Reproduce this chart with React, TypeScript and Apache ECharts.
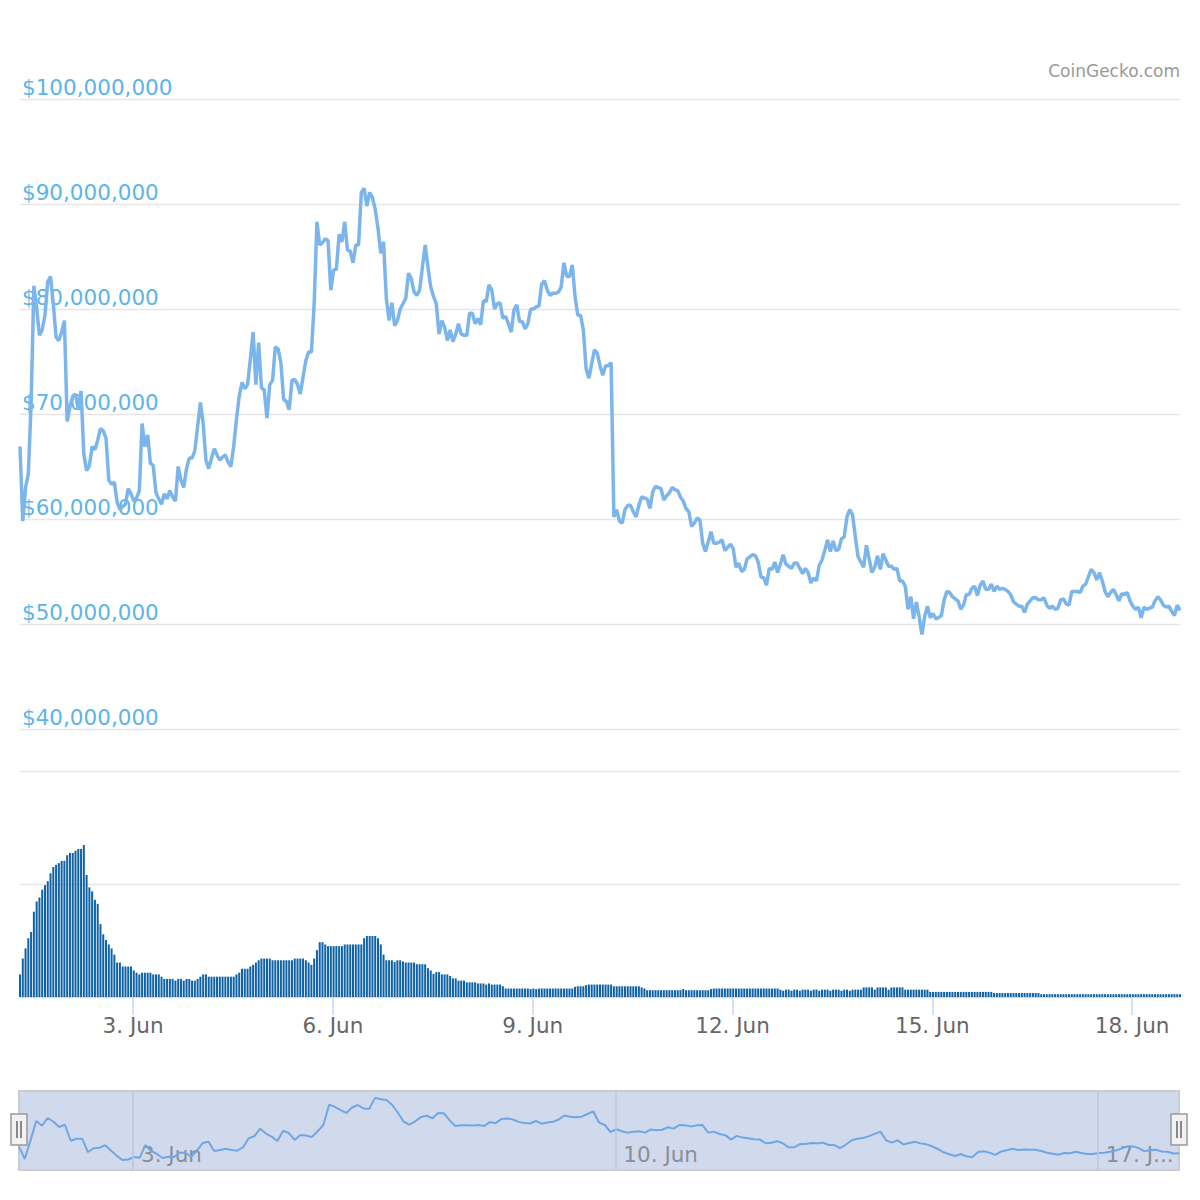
import React, { useEffect, useRef } from "react";
import * as echarts from "echarts";

// ---- data (hourly, market cap in millions USD) ----
const startTime = Date.UTC(2020, 5, 1, 7, 15);
const HOUR = 3600 * 1000;

const marketCap = [
  66.9, 59.8, 63.0, 64.3, 71.0, 82.2, 80.1, 77.5, 78.0, 79.4,
  82.6, 83.1, 80.5, 77.3, 77.0, 77.8, 78.9, 69.3, 70.7, 71.7,
  71.9, 70.4, 72.2, 66.2, 64.6, 65.1, 66.9, 66.6, 67.5, 68.6,
  68.4, 67.7, 63.7, 63.3, 63.5, 61.6, 60.9, 61.2, 61.4, 62.9,
  62.4, 61.7, 62.0, 62.7, 69.1, 66.9, 68.0, 65.3, 65.1, 62.5,
  61.9, 61.4, 62.4, 61.9, 62.7, 62.1, 61.7, 65.0, 63.7, 63.0,
  64.8, 65.8, 65.8, 66.5, 68.8, 71.1, 69.1, 65.6, 64.8, 65.8,
  66.7, 66.1, 65.6, 65.9, 66.1, 65.4, 65.0, 66.9, 69.5, 71.7,
  73.0, 72.4, 72.8, 75.2, 77.8, 72.8, 76.8, 72.5, 72.3, 69.6,
  72.8, 73.2, 76.4, 76.2, 74.9, 71.4, 71.2, 70.4, 73.2, 73.3,
  72.8, 71.9, 73.5, 75.1, 75.9, 75.9, 80.5, 88.3, 86.1, 86.3,
  86.7, 86.5, 81.8, 83.7, 83.8, 87.1, 86.4, 88.3, 85.6, 85.5,
  84.4, 86.1, 86.1, 91.1, 91.5, 89.8, 91.1, 90.6, 89.5, 87.7,
  85.3, 86.4, 81.0, 78.9, 80.6, 78.4, 78.9, 80.0, 80.5, 81.0,
  83.4, 82.9, 81.6, 81.3, 81.8, 84.0, 86.1, 84.0, 82.1, 81.2,
  80.5, 77.6, 78.9, 78.3, 77.0, 78.0, 76.9, 77.6, 78.6, 77.6,
  77.5, 77.5, 79.6, 79.6, 78.6, 79.1, 78.5, 80.8, 80.7, 82.3,
  81.8, 80.0, 80.5, 80.6, 79.1, 79.3, 78.6, 77.8, 79.9, 80.4,
  78.8, 78.8, 78.1, 78.6, 80.0, 80.0, 80.2, 80.3, 82.4, 82.7,
  81.8, 81.3, 81.5, 81.5, 81.6, 82.1, 84.4, 83.1, 83.1, 84.2,
  81.2, 79.4, 79.4, 78.0, 74.3, 73.4, 74.8, 76.1, 75.8, 74.6,
  73.7, 74.6, 74.6, 74.9, 60.2, 60.9, 59.8, 59.6, 60.9, 61.3,
  61.3, 60.7, 60.2, 61.3, 62.1, 62.0, 61.9, 61.0, 62.6, 63.1,
  63.0, 62.9, 61.8, 62.2, 62.5, 63.0, 62.8, 62.7, 62.1, 61.7,
  61.0, 60.7, 59.3, 59.6, 60.1, 59.9, 57.7, 56.9, 57.8, 58.8,
  57.7, 57.7, 57.8, 58.0, 57.0, 57.3, 57.6, 57.2, 55.4, 55.8,
  55.0, 55.2, 56.2, 56.4, 56.6, 56.5, 55.9, 54.5, 54.4, 53.7,
  55.3, 55.2, 55.9, 54.9, 55.7, 56.6, 55.7, 55.5, 55.3, 55.8,
  55.8, 55.3, 54.8, 55.3, 54.9, 53.9, 54.4, 54.1, 55.6, 56.1,
  57.0, 58.0, 56.9, 57.9, 57.0, 57.1, 58.1, 58.3, 60.2, 60.9,
  60.4, 58.3, 56.4, 55.9, 55.4, 57.5, 56.2, 54.9, 55.4, 56.5,
  55.2, 56.7, 56.1, 55.5, 55.5, 55.2, 55.3, 54.1, 54.1, 53.6,
  51.4, 52.6, 50.5, 52.1, 50.7, 49.0, 50.7, 51.7, 50.6, 51.0,
  50.5, 50.6, 50.8, 52.3, 53.1, 53.0, 52.6, 52.4, 52.2, 51.4,
  51.8, 52.8, 52.8, 53.4, 53.6, 52.7, 53.7, 54.1, 53.3, 53.3,
  53.8, 53.1, 53.6, 53.3, 53.4, 53.3, 53.1, 52.8, 52.1, 51.9,
  51.7, 51.7, 51.1, 51.9, 52.2, 52.5, 52.5, 52.3, 52.3, 52.5,
  51.8, 51.5, 51.7, 51.4, 51.5, 52.3, 52.4, 51.9, 51.8, 53.1,
  53.1, 53.1, 53.0, 53.6, 53.8, 54.5, 55.2, 54.9, 54.2, 54.9,
  54.1, 53.1, 52.6, 53.0, 53.3, 52.8, 52.2, 52.9, 52.8, 53.0,
  52.2, 51.7, 51.4, 51.6, 50.6, 51.6, 51.4, 51.5, 51.6, 52.2,
  52.6, 52.3, 51.8, 51.6, 51.7, 51.2, 50.8, 51.8, 51.3,
];

// hourly volume (millions USD)
const volume = [
  4.0, 6.8, 8.6, 10.4, 11.5, 15.1, 16.9, 17.6, 19.0, 19.8,
  20.5, 21.9, 23.0, 23.4, 23.7, 24.1, 24.1, 25.1, 25.5, 25.5,
  25.9, 26.2, 26.2, 26.9, 21.6, 19.4, 18.7, 17.2, 16.5, 12.9,
  11.1, 10.1, 9.3, 8.6, 7.5, 6.1, 6.1, 5.4, 5.4, 5.4,
  5.4, 4.7, 4.3, 4.0, 4.3, 4.3, 4.3, 4.3, 4.0, 4.0,
  4.0, 3.6, 3.2, 3.2, 3.2, 3.2, 2.9, 3.2, 3.2, 2.9,
  3.2, 3.2, 2.9, 2.9, 3.2, 3.6, 4.0, 4.0, 3.6, 3.6,
  3.6, 3.6, 3.6, 3.6, 3.6, 3.6, 3.6, 3.6, 4.0, 4.3,
  5.0, 5.0, 5.0, 5.4, 5.7, 6.1, 6.5, 6.8, 6.8, 6.8,
  6.8, 6.5, 6.5, 6.5, 6.5, 6.5, 6.5, 6.5, 6.5, 6.8,
  6.8, 6.8, 6.8, 6.5, 6.1, 5.7, 6.8, 8.3, 9.7, 9.7,
  9.3, 9.0, 9.0, 9.0, 9.0, 9.0, 9.0, 9.3, 9.3, 9.3,
  9.3, 9.3, 9.3, 9.3, 10.4, 10.8, 10.8, 10.8, 10.8, 10.4,
  9.3, 7.5, 6.5, 6.5, 6.5, 6.2, 6.5, 6.5, 6.3, 6.1,
  6.1, 6.1, 6.1, 5.8, 5.8, 5.8, 5.8, 5.1, 4.7, 4.1,
  4.4, 4.4, 4.0, 4.0, 4.0, 3.7, 3.3, 3.3, 2.9, 2.9,
  2.9, 2.6, 2.6, 2.6, 2.6, 2.4, 2.4, 2.4, 2.2, 2.4,
  2.2, 2.2, 2.2, 2.2, 1.9, 1.5, 1.5, 1.5, 1.5, 1.5,
  1.5, 1.5, 1.5, 1.5, 1.4, 1.5, 1.4, 1.5, 1.5, 1.5,
  1.5, 1.5, 1.5, 1.5, 1.5, 1.5, 1.5, 1.5, 1.5, 1.5,
  1.8, 1.9, 1.9, 1.9, 2.1, 2.2, 2.2, 2.2, 2.2, 2.2,
  2.2, 2.2, 2.2, 2.2, 1.9, 1.9, 1.9, 1.9, 1.9, 1.9,
  1.9, 1.9, 1.9, 1.9, 1.7, 1.5, 1.2, 1.2, 1.2, 1.2,
  1.2, 1.2, 1.2, 1.2, 1.2, 1.2, 1.2, 1.2, 1.2, 1.4,
  1.2, 1.2, 1.2, 1.2, 1.2, 1.2, 1.2, 1.2, 1.2, 1.4,
  1.5, 1.5, 1.5, 1.5, 1.5, 1.5, 1.5, 1.5, 1.5, 1.5,
  1.5, 1.5, 1.5, 1.5, 1.5, 1.5, 1.5, 1.5, 1.5, 1.5,
  1.5, 1.5, 1.5, 1.5, 1.3, 1.1, 1.3, 1.3, 1.1, 1.3,
  1.3, 1.1, 1.3, 1.3, 1.3, 1.1, 1.3, 1.3, 1.1, 1.3,
  1.3, 1.3, 1.1, 1.3, 1.3, 1.3, 1.1, 1.3, 1.3, 1.1,
  1.3, 1.3, 1.3, 1.3, 1.7, 1.7, 1.7, 1.7, 1.3, 1.7,
  1.7, 1.7, 1.7, 1.3, 1.7, 1.7, 1.7, 1.7, 1.7, 1.3,
  1.3, 1.3, 1.3, 1.3, 1.3, 1.3, 1.3, 1.3, 0.9, 0.9,
  0.9, 0.9, 0.9, 0.9, 0.9, 0.9, 0.9, 0.9, 0.9, 0.9,
  0.9, 0.9, 0.9, 0.9, 0.9, 0.9, 0.9, 0.9, 0.9, 0.9,
  0.9, 0.7, 0.7, 0.7, 0.7, 0.7, 0.7, 0.7, 0.7, 0.7,
  0.7, 0.7, 0.7, 0.7, 0.7, 0.7, 0.7, 0.7, 0.5, 0.5,
  0.5, 0.5, 0.5, 0.5, 0.5, 0.5, 0.5, 0.5, 0.5, 0.5,
  0.5, 0.5, 0.5, 0.5, 0.5, 0.5, 0.5, 0.5, 0.5, 0.5,
  0.5, 0.5, 0.5, 0.5, 0.5, 0.5, 0.5, 0.5, 0.5, 0.5,
  0.5, 0.5, 0.5, 0.5, 0.5, 0.5, 0.5, 0.5, 0.5, 0.5,
  0.5, 0.5, 0.5, 0.5, 0.5, 0.5, 0.5, 0.5, 0.5,
];

// navigator series (2-hourly, relative index 0..100)
const navStartTime = Date.UTC(2020, 5, 1, 8, 18);
const NAV_STEP = 2 * HOUR;
const navigatorValues = [
  29.5, 13.9, 37.3, 62.0, 56.1, 65.8, 61.1, 54.4, 57.3, 37.0,
  39.6, 39.6, 22.8, 27.5, 28.1, 31.3, 24.7, 18.2, 12.7, 13.3,
  16.5, 15.4, 31.6, 24.1, 20.3, 15.2, 16.8, 16.5, 22.2, 21.5,
  17.0, 24.7, 34.2, 35.8, 24.1, 25.3, 27.0, 25.3, 24.4, 28.5,
  40.1, 43.0, 52.3, 46.2, 42.2, 36.7, 49.7, 46.8, 38.0, 44.3,
  43.7, 41.8, 49.1, 57.0, 82.7, 80.0, 75.9, 72.2, 79.1, 82.3,
  77.8, 77.5, 91.3, 89.5, 88.6, 82.3, 72.2, 61.1, 57.5, 61.6,
  67.1, 68.7, 65.4, 72.2, 71.8, 62.8, 55.7, 56.6, 56.8, 56.3,
  57.0, 55.7, 60.5, 59.4, 64.6, 65.3, 63.9, 60.9, 59.5, 58.9,
  62.0, 58.6, 60.1, 61.1, 63.9, 69.1, 67.5, 66.7, 67.5, 70.9,
  74.3, 60.1, 57.0, 48.1, 51.5, 49.0, 47.2, 48.4, 49.0, 47.3,
  51.3, 50.4, 50.9, 54.1, 52.4, 57.0, 56.7, 55.2, 56.5, 57.0,
  47.3, 48.5, 45.6, 44.1, 38.5, 43.2, 41.0, 40.1, 38.9, 38.7,
  33.9, 34.6, 36.5, 33.9, 28.7, 28.7, 32.8, 33.0, 34.3, 33.8,
  34.6, 31.6, 31.6, 27.8, 32.2, 37.6, 39.6, 40.6, 42.9, 45.8,
  48.6, 37.7, 34.6, 37.8, 32.2, 34.2, 35.7, 33.7, 32.5, 30.0,
  26.6, 22.4, 20.0, 17.8, 20.3, 17.3, 16.1, 22.8, 23.7, 22.0,
  19.2, 23.4, 25.1, 26.8, 25.3, 26.1, 25.6, 25.7, 24.1, 21.8,
  20.5, 19.4, 21.5, 21.1, 23.0, 21.5, 20.3, 20.3, 21.5, 21.9,
  23.2, 24.7, 27.0, 30.0, 29.9, 27.7, 23.7, 25.3, 25.7, 23.5,
  23.2, 20.9, 21.1,
];

// tick labels
const mainTickDays = [3, 6, 9, 12, 15, 18];
const navTickDays = [3, 10, 17];
const navTickLabels = ["3. Jun", "10. Jun", "17. J..."];

const FONT = "DejaVu Sans";

export default function App() {
  const ref = useRef<HTMLDivElement>(null);

  useEffect(() => {
    if (!ref.current) return;
    const chart = echarts.init(ref.current, undefined, { renderer: "svg" });

    const times = marketCap.map((_, i) => startTime + i * HOUR);
    const navTimes = navigatorValues.map((_, i) => navStartTime + i * NAV_STEP);
    const mainTicks = mainTickDays.map((d) => Date.UTC(2020, 5, d));
    const navTicks = navTickDays.map((d) => Date.UTC(2020, 5, d));

    const xMin = times[0];
    const xMax = times[times.length - 1];

    const handle = (x: number) => ({
      type: "group",
      z: 100,
      children: [
        {
          type: "rect",
          shape: { x, y: 1114, width: 16, height: 31 },
          style: { fill: "#f2f2f2", stroke: "#999999", lineWidth: 1.5 },
        },
        {
          type: "line",
          shape: { x1: x + 6, y1: 1121, x2: x + 6, y2: 1138 },
          style: { stroke: "#666666", lineWidth: 1.5 },
        },
        {
          type: "line",
          shape: { x1: x + 10, y1: 1121, x2: x + 10, y2: 1138 },
          style: { stroke: "#666666", lineWidth: 1.5 },
        },
      ],
    });

    chart.setOption({
      animation: false,
      backgroundColor: "#ffffff",
      textStyle: { fontFamily: FONT },
      grid: [
        { left: 20, top: 99, width: 1160, height: 630 },
        { left: 20, top: 771, width: 1160, height: 226 },
        {
          left: 19,
          top: 1091,
          width: 1160,
          height: 79,
          show: true,
          backgroundColor: "#d1daed",
          borderColor: "#cccccc",
          borderWidth: 2,
        },
      ],
      xAxis: [
        {
          type: "value",
          gridIndex: 0,
          min: xMin,
          max: xMax,
          show: false,
        },
        {
          type: "value",
          gridIndex: 1,
          min: xMin,
          max: xMax,
          axisLine: { show: true, lineStyle: { color: "#ccd6eb", width: 1 } },
          axisTick: {
            show: true,
            customValues: mainTicks,
            length: 18,
            lineStyle: { color: "#ccd6eb", width: 1.5 },
          },
          axisLabel: {
            customValues: mainTicks,
            formatter: (v: number) => new Date(v).getUTCDate() + ". Jun",
            color: "#666666",
            fontSize: 21.5,
            fontFamily: FONT,
            margin: 17,
          },
          splitLine: { show: false },
        },
        {
          type: "value",
          gridIndex: 2,
          min: navTimes[0],
          max: navTimes[navTimes.length - 1],
          axisLine: { show: false },
          axisTick: { show: false, customValues: navTicks },
          splitLine: { show: false },
          axisLabel: {
            inside: true,
            customValues: navTicks,
            formatter: (v: number) => {
              const idx = navTickDays.indexOf(new Date(v).getUTCDate());
              return idx >= 0 ? navTickLabels[idx] : "";
            },
            align: "left",
            verticalAlign: "bottom",
            padding: [0, 0, 0, 8],
            margin: 5,
            color: "#8a8e98",
            fontSize: 21.5,
            fontFamily: FONT,
          },
        },
      ],
      yAxis: [
        {
          type: "value",
          gridIndex: 0,
          min: 40e6,
          max: 100e6,
          interval: 10e6,
          axisLine: { show: false },
          axisTick: { show: false },
          splitLine: { lineStyle: { color: "#e6e6e6", width: 1.3 } },
          axisLabel: {
            inside: true,
            margin: 2,
            align: "left",
            verticalAlign: "bottom",
            padding: [0, 0, 1, 0],
            color: "#5cb4e8",
            fontSize: 21.5,
            fontFamily: FONT,
            formatter: (v: number) => "$" + v.toLocaleString("en-US"),
          },
          z: 1,
        },
        {
          type: "value",
          gridIndex: 1,
          min: 0,
          max: 40,
          interval: 20,
          axisLine: { show: false },
          axisTick: { show: false },
          axisLabel: { show: false },
          splitLine: { lineStyle: { color: "#e6e6e6", width: 1.3 } },
        },
        { type: "value", gridIndex: 2, min: 0, max: 100, show: false },
      ],
      series: [
        {
          name: "Market Cap",
          type: "line",
          xAxisIndex: 0,
          yAxisIndex: 0,
          data: times.map((t, i) => [t, marketCap[i] * 1e6]),
          showSymbol: false,
          lineStyle: { color: "#7cb5ec", width: 3.5 },
          itemStyle: { color: "#7cb5ec" },
          z: 5,
        },
        {
          name: "Volume",
          type: "bar",
          xAxisIndex: 1,
          yAxisIndex: 1,
          data: times.map((t, i) => [t, volume[i]]),
          barWidth: 2,
          itemStyle: { color: "#0f62a6" },
        },
        {
          name: "Navigator",
          type: "line",
          xAxisIndex: 2,
          yAxisIndex: 2,
          data: navTimes.map((t, i) => [t, navigatorValues[i]]),
          showSymbol: false,
          lineStyle: { color: "#6fa7e6", width: 2 },
          markLine: {
            silent: true,
            symbol: ["none", "none"],
            label: { show: false },
            lineStyle: { color: "#bcc5d8", width: 1.5, type: "solid" },
            data: navTicks.map((t) => ({ xAxis: t })),
          },
        },
      ],
      graphic: [
        {
          type: "text",
          right: 20,
          top: 62,
          style: {
            text: "CoinGecko.com",
            font: `17px "${FONT}"`,
            fill: "#999999",
          },
        },
        handle(11),
        handle(1171),
      ],
    });

    return () => chart.dispose();
  }, []);

  return (
    <div
      ref={ref}
      style={{
        position: "fixed",
        left: 0,
        top: 0,
        width: 1200,
        height: 1200,
        background: "#fff",
      }}
    />
  );
}
